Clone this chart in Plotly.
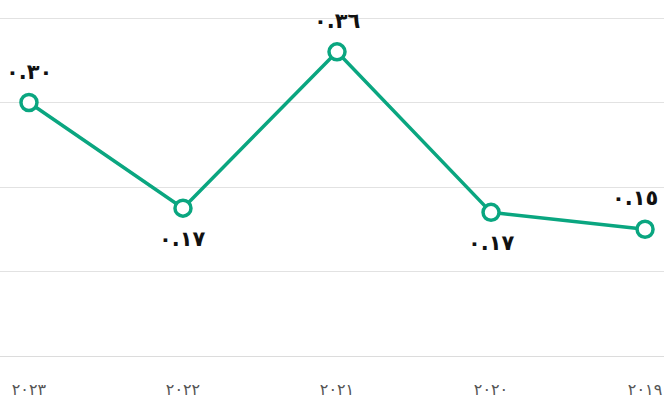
import plotly.graph_objects as go

years = ["٢٠٢٣", "٢٠٢٢", "٢٠٢١", "٢٠٢٠", "٢٠١٩"]
values = [0.30, 0.175, 0.36, 0.17, 0.15]
value_labels = ["٠.٣٠", "٠.١٧", "٠.٣٦", "٠.١٧", "٠.١٥"]
label_above = [True, False, True, False, True]

xs = list(range(len(years)))
green = "#0aa680"

fig = go.Figure()
fig.add_trace(go.Scatter(
    x=xs, y=values,
    mode="lines+markers",
    line=dict(color=green, width=3.5),
    marker=dict(size=16, color="white", line=dict(color=green, width=3.5)),
    cliponaxis=False,
    hoverinfo="skip",
))

for i, (x, v, t, up) in enumerate(zip(xs, values, value_labels, label_above)):
    last = i == len(xs) - 1
    fig.add_annotation(
        x=x, y=v, text=t, showarrow=False,
        yshift=31 if up else -31,
        xanchor="right" if last else "center",
        xshift=15 if last else 0,
        font=dict(family="DejaVu Sans", size=21, color="#111111", weight="bold"),
    )

fig.update_layout(
    width=664, height=402,
    margin=dict(l=0, r=0, t=17, b=46),
    paper_bgcolor="white", plot_bgcolor="white",
    showlegend=False,
    xaxis=dict(
        range=[-0.188, 4.123],
        tickmode="array", tickvals=xs, ticktext=years,
        showgrid=False, zeroline=False, showline=False,
        ticks="", tickfont=dict(family="DejaVu Sans", size=16, color="#555555"),
        ticklabelstandoff=22,
    ),
    yaxis=dict(
        range=[0, 0.4012], tickvals=[0, 0.1, 0.2, 0.3, 0.4],
        showticklabels=False, showgrid=True, gridcolor="#e2e2e2", gridwidth=1,
        zeroline=True, zerolinecolor="#dcdcdc", zerolinewidth=1,
    ),
)

fig.write_html(
    "out.html",
    config={"displayModeBar": False, "staticPlot": True},
    post_script="document.body.style.margin='0';document.body.style.overflow='hidden';",
)
